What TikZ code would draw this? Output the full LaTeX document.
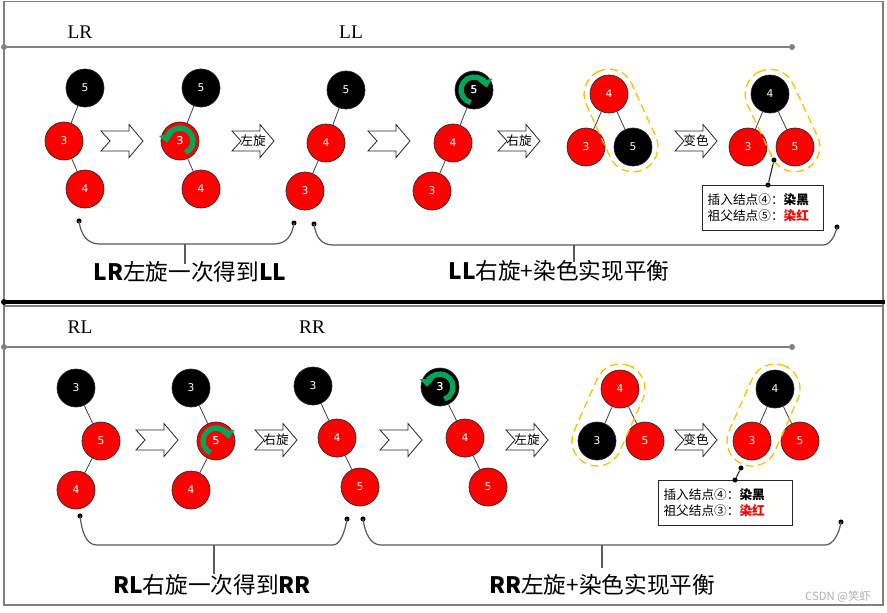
\documentclass[tikz,border=0pt]{standalone}
\usepackage{fontspec}
\setmainfont{Liberation Serif}
\newfontfamily\cjk{Noto Sans CJK SC}
\newfontfamily\numfont{DejaVu Sans}
\usetikzlibrary{arrows.meta}
\definecolor{capcol}{RGB}{255,192,0}
\definecolor{rotgreen}{RGB}{0,166,90}
\definecolor{framegray}{RGB}{128,128,128}
\definecolor{wmgray}{RGB}{175,175,175}
\tikzset{
  rn/.style={circle, minimum size=28.5pt, inner sep=0pt, fill=red, draw=black!85, line width=0.5pt, text=white, font=\numfont\fontsize{8}{9}\selectfont},
  bn/.style={rn, fill=black},
  tedge/.style={draw=black!75, line width=0.6pt},
  blockarrow/.style={draw=black!85, fill=white, line width=0.6pt, line join=miter},
  arrlabel/.style={font=\cjk\fontsize{9.5}{10}\selectfont, inner sep=0pt},
  capline/.style={draw=capcol, dash pattern=on 6pt off 3.5pt, line width=1pt, rounded corners=18.75pt},
  rotarr/.style={draw=rotgreen, line width=4pt, -{Triangle[width=10.5pt,length=6pt]}},
  brace/.style={draw=black!65, line width=0.9pt},
  dotn/.style={circle, fill=black, inner sep=0pt, minimum size=3.8pt},
  gdot/.style={circle, fill=framegray, inner sep=0pt, minimum size=4.5pt},
  hline/.style={draw=framegray, line width=1.1pt},
  seclabel/.style={font=\fontsize{14.5}{16}\selectfont, inner sep=0pt},
  bigtxt/.style={font=\cjk\fontsize{17}{20}\selectfont, inner sep=0pt},
  callout/.style={draw=black!85, line width=0.6pt, font=\cjk\fontsize{9.5}{12}\selectfont, align=left, inner xsep=4pt, inner ysep=0pt, minimum height=33.75pt}
}
\newcommand{\chevarr}[3]{% name, x, y
  \coordinate (#1) at (#2,#3);
  \draw[blockarrow] (#2,#3-10) -- (#2+28,#3-10) -- (#2+28,#3-16.5) -- (#2+42,#3) -- (#2+28,#3+16.5) -- (#2+28,#3+10) -- (#2,#3+10) -- (#2+9,#3) -- cycle;
}
\newcommand{\labarr}[4]{% name, x, y, label
  \chevarr{#1}{#2}{#3}
  \node[arrlabel] (#1l) at (#2+21,#3) {#4};
}
\newcommand{\capsulepath}[4]{% x, y, angle, half length
  \begin{scope}[shift={(#1,#2)}, rotate=#3]
    \draw[capline] (-#4,-25) rectangle (#4,25);
  \end{scope}
}
\begin{document}
\begin{tikzpicture}[x=0.75pt, y=0.75pt, yscale=-1]
\useasboundingbox (0,0) rectangle (887,612);
\fill[white] (0,0) rectangle (887,612);
% frame
\draw[draw=framegray, line width=1.4pt] (4,1.5) rectangle (883,605);
\draw[draw=framegray, line width=0.8pt] (4,306) -- (883,306);
\draw[draw=black, line width=2.6pt] (3,302) -- (885,302);
\node[circle, fill=black, inner sep=0pt, minimum size=4.5pt] (sepdot) at (4,302) {};
% header lines
\node[gdot] (h1a) at (4,47) {};
\node[gdot] (h1b) at (792,47) {};
\draw[hline] (h1a) -- (h1b);
\node[gdot] (h2a) at (4,347) {};
\node[gdot] (h2b) at (792,347) {};
\draw[hline] (h2a) -- (h2b);
\node[seclabel] (lLR) at (80,32) {LR};
\node[seclabel] (lLL) at (351,32) {LL};
\node[seclabel] (lRL) at (80,327) {RL};
\node[seclabel] (lRR) at (312,327) {RR};

% ===== top panel trees =====
\node[bn] (t1a) at (85,88) {5};
\node[rn] (t1b) at (64,141) {3};
\node[rn] (t1c) at (85,189) {4};
\draw[tedge] (t1a) -- (t1b); \draw[tedge] (t1b) -- (t1c);
\chevarr{ar1}{101}{141}
\node[bn] (t2a) at (201,88) {5};
\node[rn] (t2b) at (180,141) {3};
\node[rn] (t2c) at (201,189) {4};
\draw[tedge] (t2a) -- (t2b); \draw[tedge] (t2b) -- (t2c);
\draw[rotarr] ([shift={(65:13)}]t2b.center) arc[start angle=65, end angle=-188, radius=13];
\node[rn, fill=none, draw=none] at (t2b) {3};
\labarr{ar2}{232}{141}{左旋}
\node[bn] (t3a) at (346,90) {5};
\node[rn] (t3b) at (326,143) {4};
\node[rn] (t3c) at (305,191) {3};
\draw[tedge] (t3a) -- (t3b); \draw[tedge] (t3b) -- (t3c);
\chevarr{ar3}{368}{141}
\node[bn] (t4a) at (474,90) {5};
\node[rn] (t4b) at (453,143) {4};
\node[rn] (t4c) at (432,191) {3};
\draw[tedge] (t4a) -- (t4b); \draw[tedge] (t4b) -- (t4c);
\draw[rotarr] ([shift={(105:13)}]t4a.center) arc[start angle=105, end angle=350, radius=13];
\node[rn, fill=none, draw=none] at (t4a) {5};
\labarr{ar4}{498}{141}{右旋}
\node[rn] (t5a) at (609,94) {4};
\node[rn] (t5b) at (586,147) {3};
\node[bn] (t5c) at (633,147) {5};
\draw[tedge] (t5a) -- (t5b); \draw[tedge] (t5a) -- (t5c);
\capsulepath{621}{120.5}{65.6}{54}
\labarr{ar5}{675}{141}{变色}
\node[bn] (t6a) at (770,94) {4};
\node[rn] (t6b) at (748,147) {3};
\node[rn] (t6c) at (795,147) {5};
\draw[tedge] (t6a) -- (t6b); \draw[tedge] (t6a) -- (t6c);
\capsulepath{782.5}{120.5}{64.8}{54}
% callout top
\node[callout, text width=83pt] (cb1) at (763,207.5) {插入结点④：\textbf{染黑}\\祖父结点⑤：\textcolor{red}{\textbf{染红}}};
\node[dotn] (c1) at (774,160) {};
\node[dotn] (c2) at (768,185) {};
\draw[line width=0.8pt, black!85] (c1) -- (c2);
% braces top
\node[dotn] (d1) at (79,221) {};
\node[dotn] (d2) at (294,223) {};
\draw[brace] (d1.center) .. controls (81,236) and (88,244) .. (100,244) -- (274,244) .. controls (286,244) and (292,236) .. (d2.center);
\node[bigtxt] (txt1) at (190,272) {\textbf{LR}左旋一次得到\textbf{LL}};
\coordinate (s1) at (185,244);
\draw[brace] (s1) -- (185,264);
\node[dotn] (d3) at (314,224) {};
\node[dotn] (d4) at (837,227) {};
\draw[brace] (d3.center) .. controls (316,238) and (322,245) .. (333,245) -- (823,245) .. controls (830,245) and (835,236) .. (d4.center);
\node[bigtxt] (txt2) at (559,271) {\textbf{LL}右旋+染色实现平衡};
\coordinate (s2) at (574,245);
\draw[brace] (s2) -- (574,262);

% ===== bottom panel trees =====
\node[bn] (b1a) at (76,388) {3};
\node[rn] (b1b) at (101,441) {5};
\node[rn] (b1c) at (76,490) {4};
\draw[tedge] (b1a) -- (b1b); \draw[tedge] (b1b) -- (b1c);
\chevarr{br1}{136}{440}
\node[bn] (b2a) at (191,388) {3};
\node[rn] (b2b) at (216,441) {5};
\node[rn] (b2c) at (191,490) {4};
\draw[tedge] (b2a) -- (b2b); \draw[tedge] (b2b) -- (b2c);
\draw[rotarr] ([shift={(115:13)}]b2b.center) arc[start angle=115, end angle=350, radius=13];
\node[rn, fill=none, draw=none] at (b2b) {5};
\labarr{br2}{255}{440}{右旋}
\node[bn] (b3a) at (313,386) {3};
\node[rn] (b3b) at (337,438) {4};
\node[rn] (b3c) at (360,487) {5};
\draw[tedge] (b3a) -- (b3b); \draw[tedge] (b3b) -- (b3c);
\chevarr{br3}{380}{440}
\node[bn] (b4a) at (440,387) {3};
\node[rn] (b4b) at (465,438) {4};
\node[rn] (b4c) at (488,487) {5};
\draw[tedge] (b4a) -- (b4b); \draw[tedge] (b4b) -- (b4c);
\draw[rotarr] ([shift={(70:13)}]b4a.center) arc[start angle=70, end angle=-180, radius=13];
\node[rn, fill=none, draw=none] at (b4a) {3};
\labarr{br4}{506}{440}{左旋}
\node[rn] (b5a) at (620,389) {4};
\node[bn] (b5b) at (597,441) {3};
\node[rn] (b5c) at (645,441) {5};
\draw[tedge] (b5a) -- (b5b); \draw[tedge] (b5a) -- (b5c);
\capsulepath{608.5}{415}{113.9}{53.5}
\labarr{br5}{675}{440}{变色}
\node[bn] (b6a) at (775,389) {4};
\node[rn] (b6b) at (752,441) {3};
\node[rn] (b6c) at (800,441) {5};
\draw[tedge] (b6a) -- (b6b); \draw[tedge] (b6a) -- (b6c);
\capsulepath{763.5}{415}{113.9}{53.5}
% callout bottom
\node[callout, text width=93pt, inner xsep=3.75pt] (cb2) at (725.5,502.5) {插入结点④：\textbf{染黑}\\祖父结点③：\textcolor{red}{\textbf{染红}}};
\node[dotn] (c3) at (741,468) {};
\node[dotn] (c4) at (735,480) {};
\draw[line width=0.8pt, black!85] (c3) -- (c4);
% braces bottom
\node[dotn] (d5) at (80,516) {};
\node[dotn] (d6) at (347,519) {};
\draw[brace] (d5.center) .. controls (82,532) and (86,545) .. (97,545) -- (333,545) .. controls (340,545) and (345,532) .. (d6.center);
\node[bigtxt] (txt3) at (212,585) {\textbf{RL}右旋一次得到\textbf{RR}};
\coordinate (s3) at (214,545);
\draw[brace] (s3) -- (214,574);
\node[dotn] (d7) at (363,519) {};
\node[dotn] (d8) at (841,522) {};
\draw[brace] (d7.center) .. controls (365,534) and (371,545) .. (381,545) -- (825,545) .. controls (833,545) and (839,534) .. (d8.center);
\node[bigtxt] (txt4) at (602,585) {\textbf{RR}左旋+染色实现平衡};
\coordinate (s4) at (602,545);
\draw[brace] (s4) -- (602,568);
% watermark
\node[font=\cjk\fontsize{8.5}{10}\selectfont, text=wmgray, inner sep=0pt] (wm) at (838,597) {CSDN @笑虾};
\end{tikzpicture}
\end{document}
